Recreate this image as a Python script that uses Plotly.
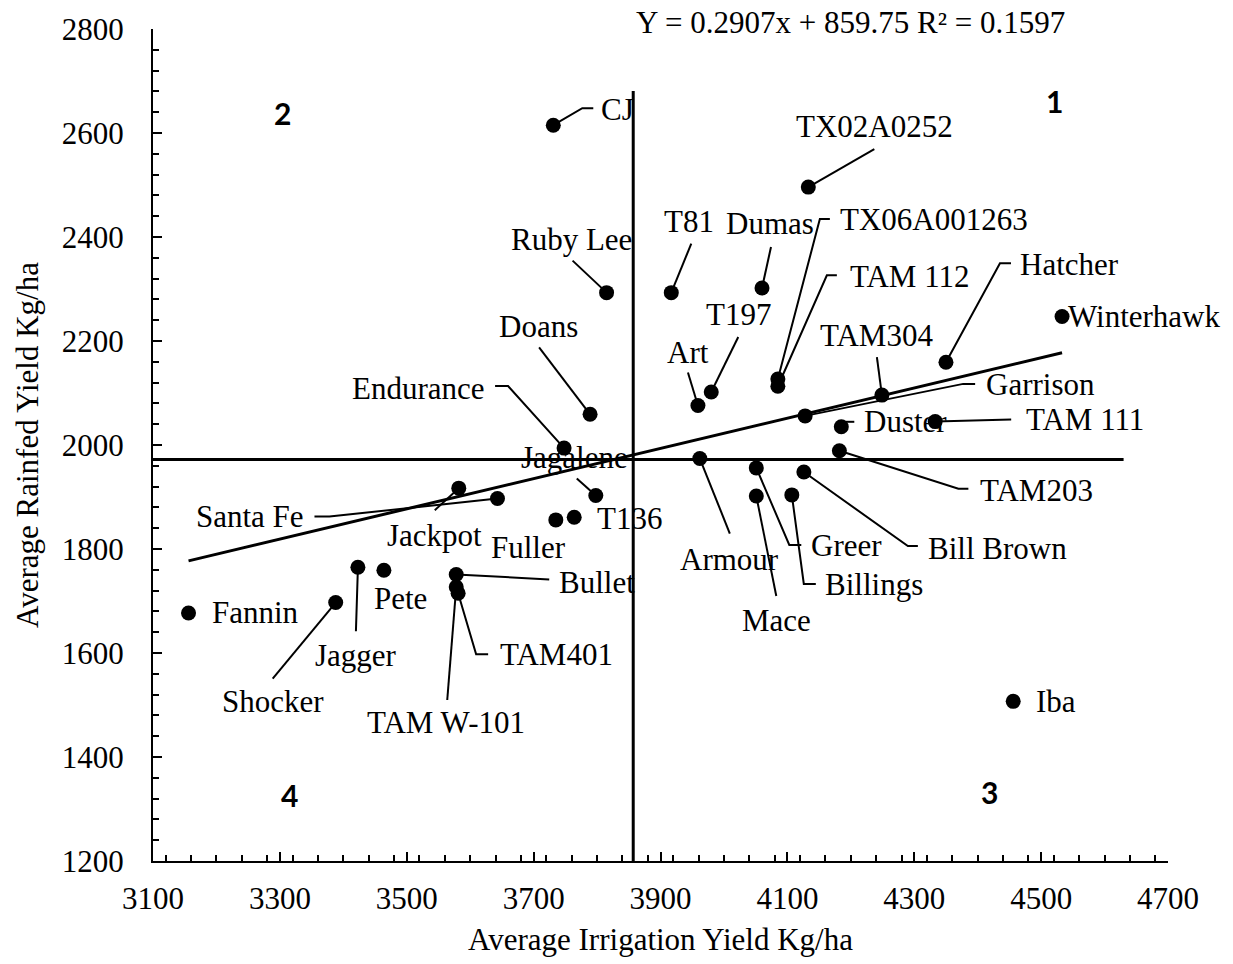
import plotly.graph_objects as go

# ---------------- data ----------------
varieties = ["CJ", "TX02A0252", "Ruby Lee", "T81", "Dumas", "TX06A001263", "TAM 112",
             "Hatcher", "Winterhawk", "TAM304", "Art", "T197", "Doans", "Endurance",
             "Jagalene", "T136", "Fuller", "Santa Fe", "Jackpot", "Fannin", "Shocker",
             "Jagger", "Pete", "Bullet", "TAM401", "TAM W-101", "Armour", "Greer", "Mace",
             "Billings", "Bill Brown", "TAM203", "Duster", "TAM 111", "Garrison", "Iba"]
irrigation_yield = [3731, 4133, 3815, 3917, 4060, 4085, 4085,
                    4350, 4533, 4249, 3959, 3980, 3789, 3748,
                    3798, 3764, 3735, 3643, 3582, 3156, 3388,
                    3423, 3464, 3578, 3581, 3578, 3962, 4051, 4051,
                    4107, 4126, 4182, 4185, 4333, 4128, 4456]
rainfed_yield = [2615, 2496, 2293, 2293, 2302, 2127, 2113,
                 2159, 2247, 2096, 2076, 2102, 2059, 1994,
                 1903, 1861, 1856, 1897, 1917, 1677, 1697,
                 1765, 1759, 1751, 1715, 1727, 1974, 1956, 1902,
                 1904, 1948, 1989, 2035, 2045, 2056, 1507]

trend_slope = 0.2907
trend_intercept = 859.75
equation_text = "Y = 0.2907x + 859.75 R² = 0.1597"

quad_split_x = 3857      # vertical divider (irrigation)
quad_split_y = 1972      # horizontal divider (rainfed)
quad_vline_top = 2681
quad_hline_end = 4630

x_ticks = [3100, 3300, 3500, 3700, 3900, 4100, 4300, 4500, 4700]
y_ticks = [1200, 1400, 1600, 1800, 2000, 2200, 2400, 2600, 2800]

quadrant_labels = ["1", "2", "3", "4"]
quadrant_x = [4521, 3304, 4419, 3315]
quadrant_y = [2662, 2639, 1333, 1327]

# ---------------- layout (pixel offsets of labels / leaders) ----------------
label_offsets = {
    "CJ": (64, -16), "TX02A0252": (66, -61), "Ruby Lee": (-35, -53), "T81": (18, -71),
    "Dumas": (8, -64), "TX06A001263": (156, -159), "TAM 112": (132, -110),
    "Hatcher": (124, -98), "Winterhawk": (82, 0), "TAM304": (-5, -60), "Art": (-10, -53),
    "T197": (27, -77), "Doans": (-52, -88), "Endurance": (-146, -60), "Jagalene": (-21, -38),
    "T136": (55, 1), "Fuller": (-27, 28), "Santa Fe": (-247, 18), "Jackpot": (-24, 47),
    "Fannin": (67, 0), "Shocker": (-63, 99), "Jagger": (-2, 88), "Pete": (17, 28),
    "Bullet": (141, 8), "TAM401": (98, 61), "TAM W-101": (-10, 136), "Armour": (30, 101),
    "Greer": (90, 78), "Mace": (20, 125), "Billings": (82, 90), "Bill Brown": (194, 76),
    "TAM203": (197, 40), "Duster": (64, -5), "TAM 111": (150, -2), "Garrison": (235, -31),
    "Iba": (43, 0),
}
leader_paths = {
    "CJ": [(0, 0), (29, -17), (40, -17)],
    "TX02A0252": [(0, 0), (66, -38)],
    "Ruby Lee": [(0, 0), (-34, -32)],
    "T81": [(0, 0), (20, -49)],
    "Dumas": [(0, 0), (9, -41)],
    "TX06A001263": [(0, 0), (42, -160), (52, -160)],
    "TAM 112": [(0, 0), (49, -111), (59, -111)],
    "Hatcher": [(0, 0), (54, -99), (65, -99)],
    "TAM304": [(0, 0), (-5, -38)],
    "Art": [(0, 0), (-10, -33)],
    "T197": [(0, 0), (27, -55)],
    "Doans": [(0, 0), (-51, -67)],
    "Endurance": [(0, 0), (-56, -62), (-69, -62)],
    "Jagalene": [(0, 0), (-19, -17)],
    "Santa Fe": [(0, 0), (-168, 18), (-183, 18)],
    "Jackpot": [(0, 0), (-24, 22)],
    "Shocker": [(0, 0), (-63, 76)],
    "Jagger": [(0, 0), (-2, 64)],
    "Bullet": [(0, 0), (82, 5), (93, 5)],
    "TAM401": [(0, 0), (18, 61), (30, 61)],
    "TAM W-101": [(0, 0), (-9, 113)],
    "Armour": [(0, 0), (30, 75)],
    "Greer": [(0, 0), (33, 77), (45, 77)],
    "Mace": [(0, 0), (20, 100)],
    "Billings": [(0, 0), (12, 89), (24, 89)],
    "Bill Brown": [(0, 0), (104, 74), (114, 74)],
    "TAM203": [(0, 0), (119, 38), (129, 38)],
    "Duster": [(4, -5), (13, -5)],
    "TAM 111": [(0, 0), (76, -2)],
    "Garrison": [(0, 0), (158, -32), (170, -32)],
}

W, H = 1233, 964
ML, MR, MT, MB = 153, 65, 29, 103
XR = [3100, 4700]
YR = [1200, 2800]
plot_w = W - ML - MR
plot_h = H - MT - MB
kx = (XR[1] - XR[0]) / plot_w
ky = (YR[1] - YR[0]) / plot_h

FONT = "Liberation Serif, Times New Roman, serif"
FS = 31

fig = go.Figure()

# leader lines
lx, ly = [], []
for name, xv, yv in zip(varieties, irrigation_yield, rainfed_yield):
    if name in leader_paths:
        for dx, dy in leader_paths[name]:
            lx.append(xv + dx * kx)
            ly.append(yv - dy * ky)
        lx.append(None)
        ly.append(None)
fig.add_trace(go.Scatter(x=lx, y=ly, mode="lines", line=dict(color="black", width=2),
                         hoverinfo="skip", showlegend=False))

# trend line
tx = [min(irrigation_yield), max(irrigation_yield)]
ty = [trend_slope * v + trend_intercept for v in tx]
fig.add_trace(go.Scatter(x=tx, y=ty, mode="lines", line=dict(color="black", width=3),
                         hoverinfo="skip", showlegend=False))

# quadrant dividers
fig.add_trace(go.Scatter(x=[XR[0], quad_hline_end], y=[quad_split_y, quad_split_y], mode="lines",
                         line=dict(color="black", width=3), hoverinfo="skip", showlegend=False))
fig.add_trace(go.Scatter(x=[quad_split_x, quad_split_x], y=[YR[0], quad_vline_top], mode="lines",
                         line=dict(color="black", width=3), hoverinfo="skip", showlegend=False))

# points
fig.add_trace(go.Scatter(x=irrigation_yield, y=rainfed_yield, mode="markers", text=varieties,
                         marker=dict(color="black", size=15, line=dict(width=0)),
                         showlegend=False))

annotations = []
for name, xv, yv in zip(varieties, irrigation_yield, rainfed_yield):
    dx, dy = label_offsets[name]
    annotations.append(dict(x=xv, y=yv, xref="x", yref="y", text=name, showarrow=False,
                            xshift=dx, yshift=-dy, xanchor="center", yanchor="middle",
                            font=dict(family=FONT, size=FS, color="black")))
for t, xv, yv in zip(quadrant_labels, quadrant_x, quadrant_y):
    annotations.append(dict(x=xv, y=yv, xref="x", yref="y", text="<b>%s</b>" % t, showarrow=False,
                            xanchor="center", yanchor="middle",
                            font=dict(family="Lato, sans-serif", size=30, color="black")))
annotations.append(dict(x=(850 - ML) / plot_w, y=1 + (MT - 22) / plot_h, xref="paper", yref="paper",
                        text=equation_text, showarrow=False, xanchor="center", yanchor="middle",
                        font=dict(family=FONT, size=FS, color="black")))

axis_common = dict(showgrid=False, zeroline=False, showline=True, linecolor="black", linewidth=2,
                   ticks="inside", ticklen=9, tickwidth=2, tickcolor="black",
                   tickfont=dict(family=FONT, size=FS, color="black"),
                   minor=dict(dtick=40, ticks="inside", ticklen=6, tickwidth=1.5, tickcolor="black"))

fig.update_layout(
    width=W, height=H,
    margin=dict(l=ML, r=MR, t=MT, b=MB),
    paper_bgcolor="white", plot_bgcolor="white",
    annotations=annotations,
    xaxis=dict(range=XR, tickvals=x_ticks, ticktext=[str(v) for v in x_ticks],
               ticklabelstandoff=9,
               title=dict(text="Average Irrigation Yield Kg/ha", standoff=13,
                          font=dict(family=FONT, size=FS, color="black")),
               **axis_common),
    yaxis=dict(range=YR, tickvals=y_ticks, ticktext=[str(v) for v in y_ticks],
               ticklabelstandoff=21,
               title=dict(text="Average Rainfed Yield Kg/ha", standoff=14,
                          font=dict(family=FONT, size=FS, color="black")),
               **axis_common),
)

fig.write_html("out.html")
